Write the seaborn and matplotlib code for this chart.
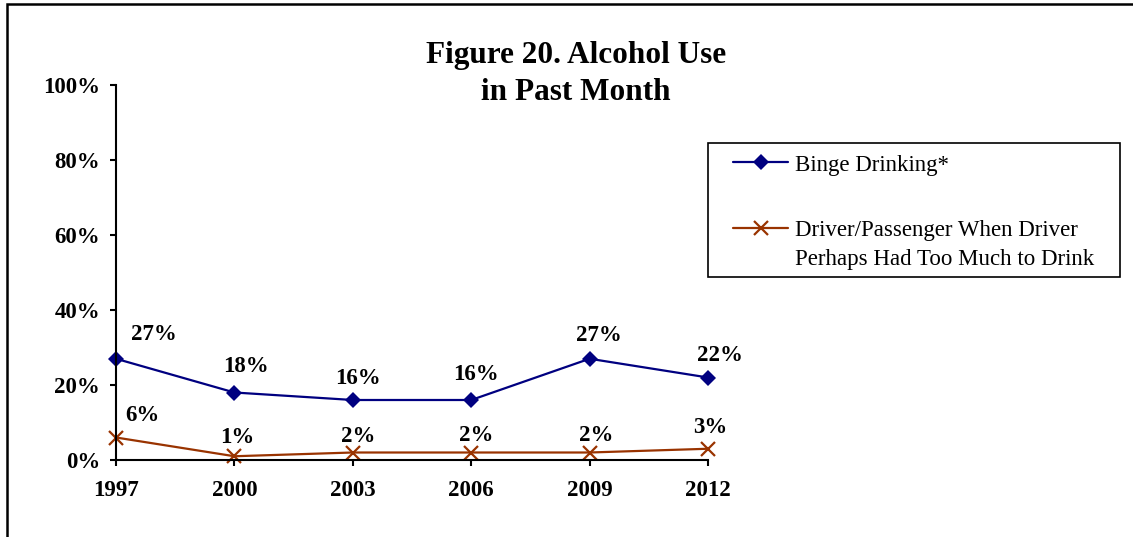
import matplotlib
matplotlib.use("Agg")
import matplotlib.pyplot as plt
from matplotlib.patches import Rectangle
from matplotlib.lines import Line2D
import seaborn as sns
import pandas as pd

# ---- data ----
years = ["1997", "2000", "2003", "2006", "2009", "2012"]
binge = [27, 18, 16, 16, 27, 22]
driver = [6, 1, 2, 2, 2, 3]
series_names = ["Binge Drinking*", "Driver/Passenger When Driver"]
legend_line2 = "Perhaps Had Too Much to Drink"
yticks = [0, 20, 40, 60, 80, 100]
title = "Figure 20. Alcohol Use\nin Past Month"

df = pd.DataFrame({
    "year": years * 2,
    "value": binge + driver,
    "series": [series_names[0]] * len(years) + [series_names[1]] * len(years),
})

sns.set_theme(style="white")
plt.rcParams["font.family"] = ["Liberation Serif", "DejaVu Serif"]
plt.rcParams["text.color"] = "black"
plt.rcParams["xtick.color"] = "black"
plt.rcParams["ytick.color"] = "black"
plt.rcParams["xtick.labelcolor"] = "black"
plt.rcParams["ytick.labelcolor"] = "black"

W, H = 1133, 537
fig = plt.figure(figsize=(W / 100, H / 100), dpi=100)
ax = fig.add_axes([116 / W, 1 - 460 / H, (708 - 116) / W, (460 - 85) / H])

colors = {series_names[0]: "#000080", series_names[1]: "#993300"}

for name, mk, ms in [(series_names[0], "D", 8), (series_names[1], "x", 10)]:
    sub = df[df["series"] == name]
    sns.lineplot(data=sub, x="year", y="value", ax=ax, color=colors[name],
                 marker=mk, markersize=ms, markeredgewidth=1.6 if mk == "x" else 0,
                 markeredgecolor=colors[name], linewidth=1.6, legend=False,
                 clip_on=False)

ax.set_xlim(0, len(years) - 1)
ax.set_ylim(0, 100)
ax.set_yticks(yticks)
ax.set_yticklabels([f"{v}%" for v in yticks])
ax.set_xlabel("")
ax.set_ylabel("")
for s in ["top", "right"]:
    ax.spines[s].set_visible(False)
for s in ["left", "bottom"]:
    ax.spines[s].set_color("black")
    ax.spines[s].set_linewidth(1.5)
ax.tick_params(axis="both", which="major", direction="out", length=4.5, width=1.5,
               color="black", labelsize=16.5, bottom=True, left=True,
               labelcolor="black")
ax.tick_params(axis="y", pad=7)
ax.tick_params(axis="x", pad=10)
for lab in ax.get_xticklabels() + ax.get_yticklabels():
    lab.set_fontweight("bold")
ax.grid(False)

# data labels (offsets in pixels)
binge_off = [(38, 24), (12, 26), (5, 21), (5, 25), (9, 23), (12, 22)]
driver_off = [(26, 22), (3, 19), (5, 16), (5, 17), (7, 17), (2, 21)]
for i, (v, off) in enumerate(zip(binge, binge_off)):
    ax.annotate(f"{v}%", (i, v), xytext=off, textcoords="offset pixels",
                ha="center", va="center", fontsize=16.5, fontweight="bold",
                color="black", annotation_clip=False)
for i, (v, off) in enumerate(zip(driver, driver_off)):
    ax.annotate(f"{v}%", (i, v), xytext=off, textcoords="offset pixels",
                ha="center", va="center", fontsize=16.5, fontweight="bold",
                color="black", annotation_clip=False)

# title
fig.text(576 / W, 1 - 74 / H, title, ha="center", va="center", fontsize=22.5,
         fontweight="bold", linespacing=1.35, color="black")

# legend
handles = [
    Line2D([], [], color=colors[series_names[0]], marker="D", markersize=8,
           markeredgewidth=0, linewidth=1.6),
    Line2D([], [], color=colors[series_names[1]], marker="x", markersize=10,
           markeredgewidth=1.6, linewidth=1.6),
]
leg = fig.legend(handles, series_names, loc="upper left",
                 bbox_to_anchor=(722 / W, 1 - 143 / H), frameon=False,
                 fontsize=16.5, handlelength=2.4, handletextpad=0.3,
                 labelspacing=1.95, borderpad=0, labelcolor="black")
fig.patches.append(Rectangle((708 / W, 1 - 277 / H), (1120 - 708) / W, (277 - 143) / H,
                             transform=fig.transFigure, fill=False,
                             edgecolor="black", linewidth=1.2))
fig.canvas.draw()
bb = leg.get_texts()[1].get_window_extent()
fig.text(bb.x0 / W, (bb.y0 - 29 + bb.height / 2) / H, legend_line2, ha="left",
         va="center", fontsize=16.5, color="black")

# outer frame (left and top edges visible)
fig.patches.append(Rectangle((7 / W, -0.2), 1.5, 1.2 - 4 / H,
                             transform=fig.transFigure, fill=False,
                             edgecolor="black", linewidth=1.8))

fig.savefig("out.png", dpi=100)
